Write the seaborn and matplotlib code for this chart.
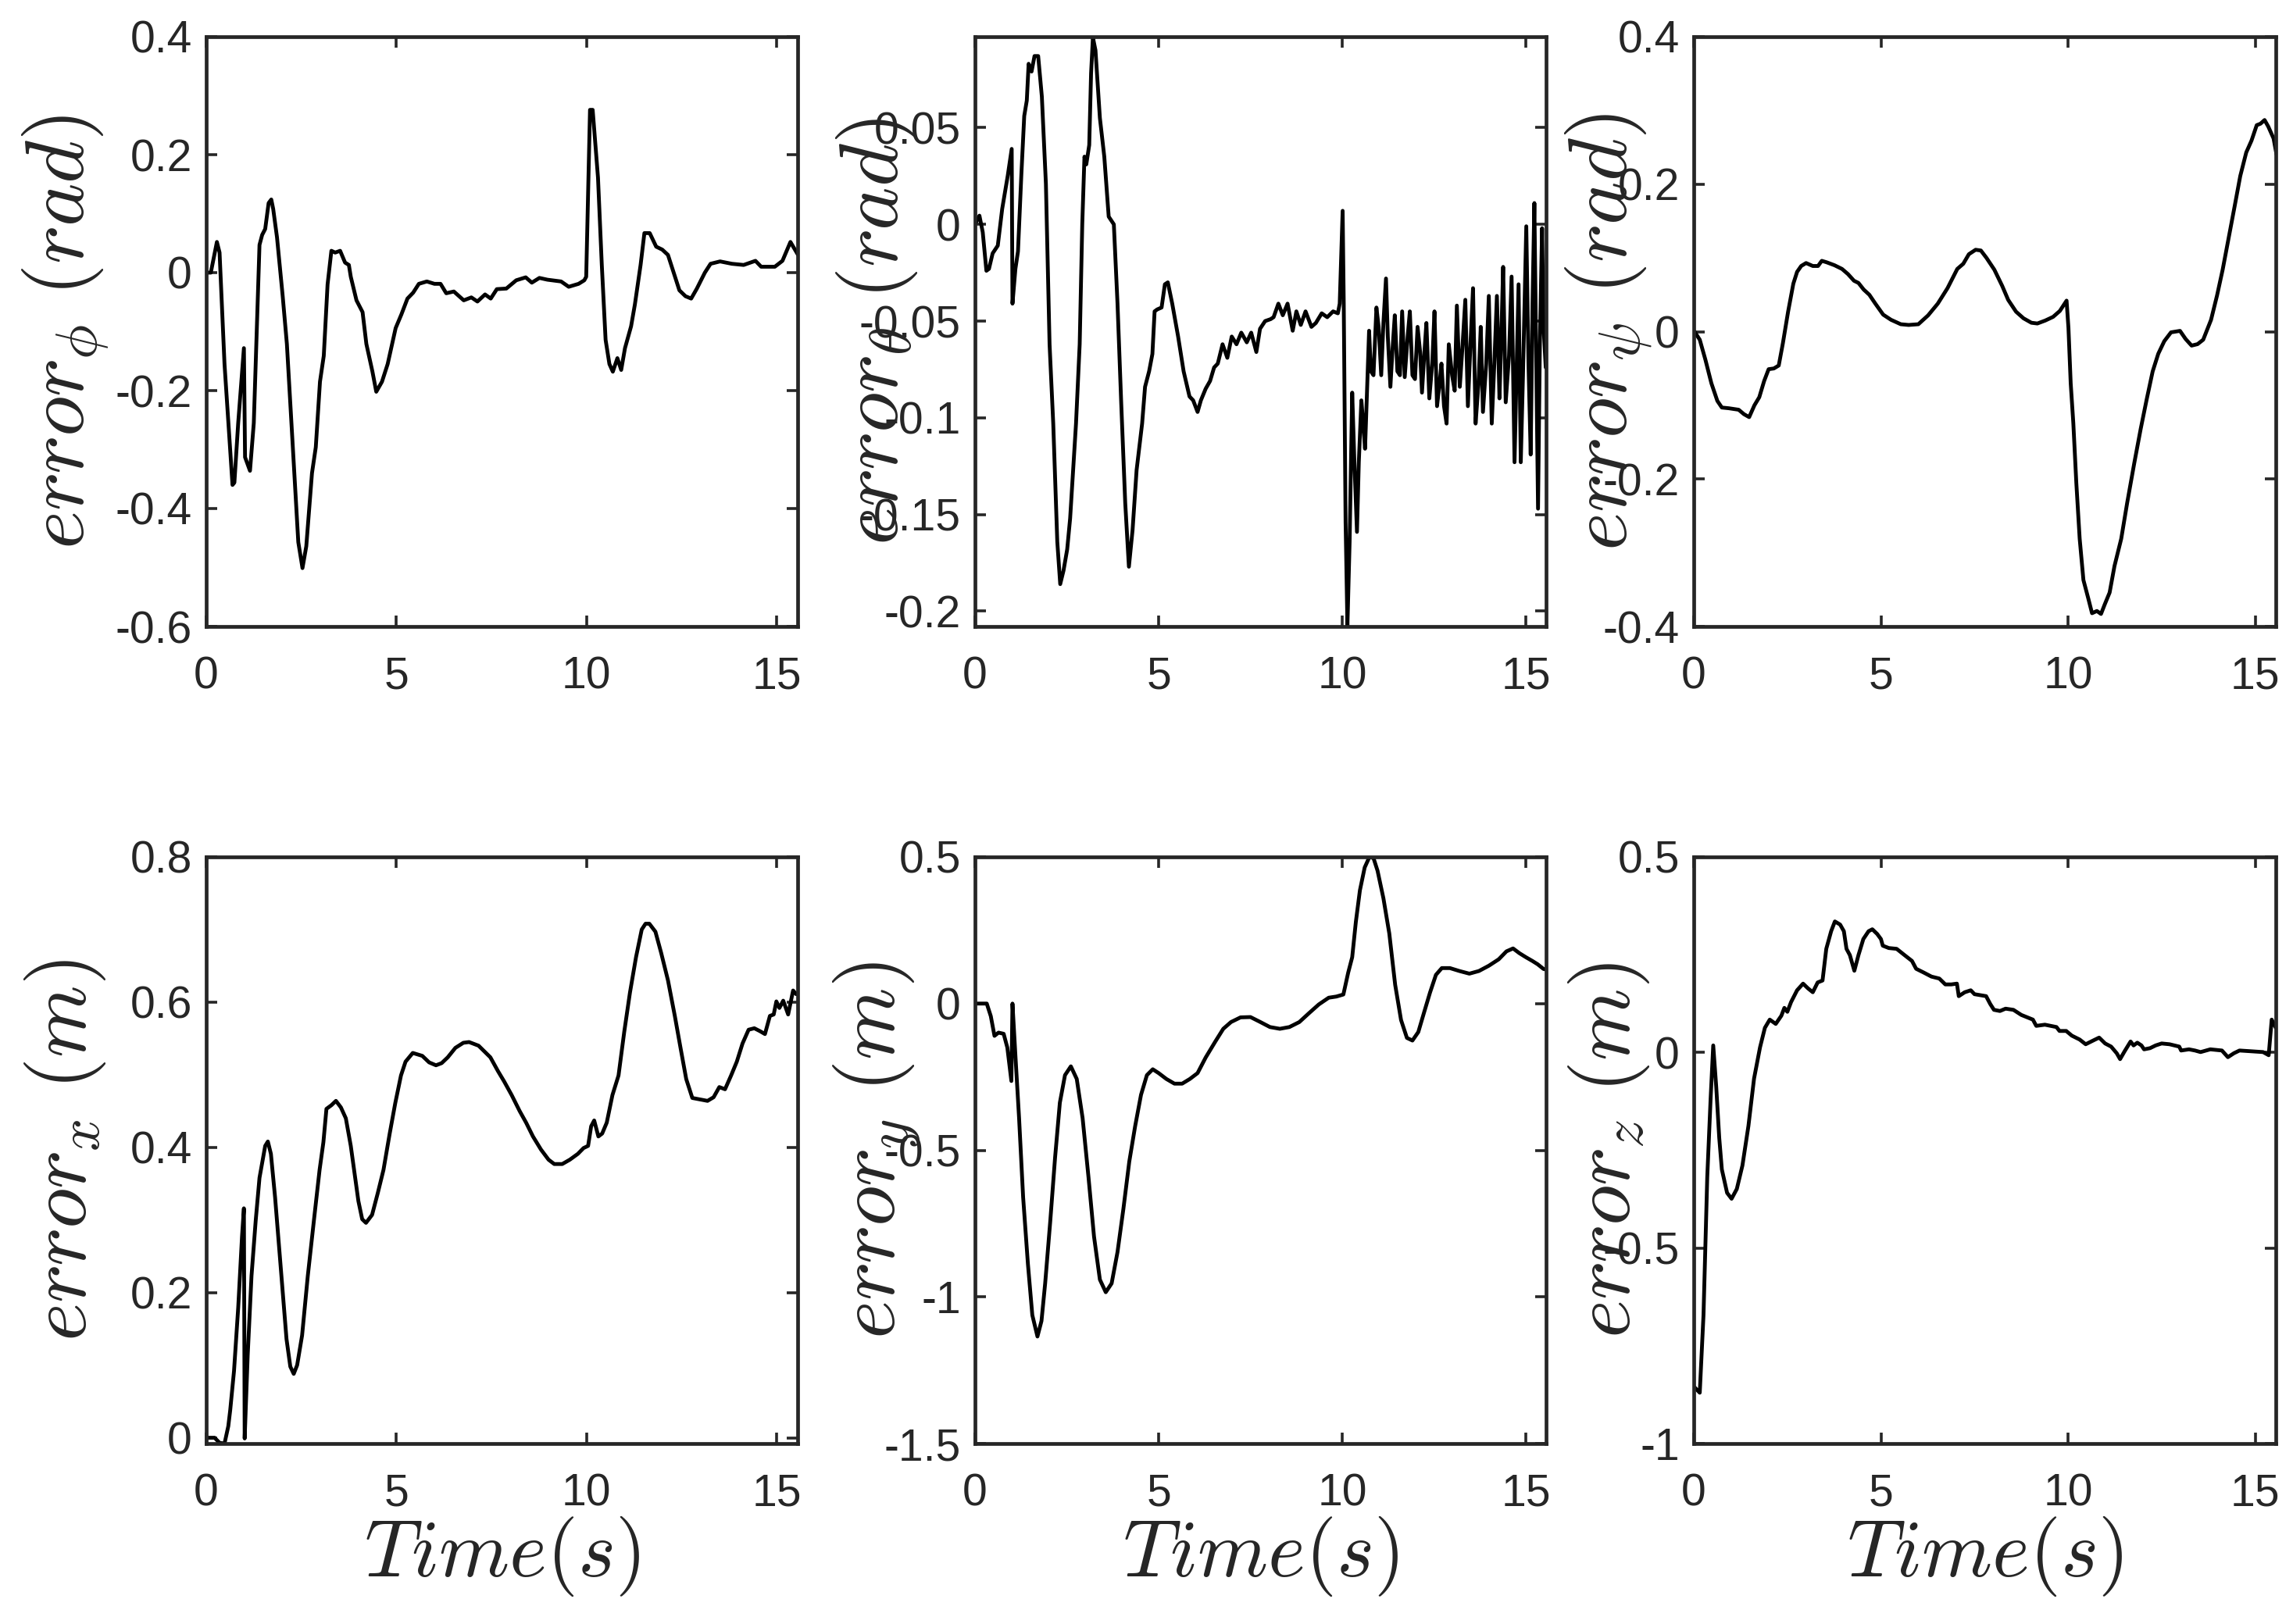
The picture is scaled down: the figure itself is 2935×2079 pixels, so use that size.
import numpy as np
import pandas as pd
import seaborn as sns
import matplotlib
matplotlib.use("Agg")
import matplotlib.pyplot as plt
from matplotlib.ticker import FuncFormatter

sns.set_style("ticks")
plt.rcParams['font.family'] = ['Liberation Sans', 'DejaVu Sans']
plt.rcParams['mathtext.fontset'] = 'cm'
plt.rcParams['axes.unicode_minus'] = False

# ---- data (time in s, error values) ----
t_phi = [0, 0.12, 0.28, 0.35, 0.48, 0.69, 0.74, 0.84, 0.99, 1.02, 1.15, 1.25, 1.40, 1.47, 1.55,
         1.64, 1.71, 1.76, 1.86, 2.01, 2.12, 2.27, 2.42, 2.53, 2.63, 2.78, 2.88, 2.99, 3.09, 3.19,
         3.29, 3.39, 3.52, 3.65, 3.75, 3.80, 3.95, 4.11, 4.21, 4.37, 4.47, 4.62, 4.77, 4.98, 5.13,
         5.29, 5.44, 5.59, 5.80, 6.00, 6.16, 6.31, 6.51, 6.77, 6.97, 7.13, 7.33, 7.48, 7.64, 7.89,
         8.15, 8.40, 8.56, 8.76, 8.97, 9.33, 9.53, 9.79, 9.94, 9.99, 10.09, 10.16, 10.30, 10.40,
         10.50, 10.60, 10.69, 10.81, 10.91, 11.01, 11.17, 11.27, 11.42, 11.52, 11.66, 11.83, 11.99,
         12.14, 12.29, 12.44, 12.60, 12.75, 12.90, 13.11, 13.26, 13.51, 13.82, 14.13, 14.44, 14.59,
         14.95, 15.15, 15.36, 15.56]
err_phi = [0, 0, 0.052, 0.034, -0.155, -0.36, -0.356, -0.255, -0.128, -0.313, -0.336, -0.255,
           0.047, 0.064, 0.074, 0.118, 0.124, 0.108, 0.06, -0.04, -0.121, -0.289, -0.457, -0.501,
           -0.464, -0.34, -0.296, -0.185, -0.141, -0.02, 0.037, 0.034, 0.037, 0.017, 0.013, -0.007,
           -0.047, -0.067, -0.121, -0.168, -0.202, -0.185, -0.155, -0.094, -0.071, -0.044, -0.034,
           -0.019, -0.015, -0.019, -0.019, -0.035, -0.032, -0.047, -0.042, -0.049, -0.037, -0.044,
           -0.028, -0.027, -0.013, -0.008, -0.017, -0.009, -0.012, -0.015, -0.024, -0.019, -0.013,
           -0.007, 0.276, 0.276, 0.161, 0.013, -0.114, -0.155, -0.168, -0.145, -0.165, -0.128,
           -0.091, -0.054, 0.013, 0.067, 0.067, 0.044, 0.039, 0.03, 0.0, -0.03, -0.04, -0.044,
           -0.027, 0.0, 0.015, 0.019, 0.015, 0.013, 0.02, 0.01, 0.01, 0.02, 0.052, 0.03]

t_theta = [0, 0.12, 0.21, 0.31, 0.38, 0.48, 0.62, 0.74, 0.89, 0.999, 1.02, 1.10, 1.17, 1.26, 1.34,
           1.41, 1.46, 1.54, 1.62, 1.72, 1.82, 1.93, 2.03, 2.13, 2.24, 2.32, 2.41, 2.51, 2.59, 2.75,
           2.85, 2.92, 2.98, 3.03, 3.11, 3.16, 3.21, 3.28, 3.40, 3.52, 3.64, 3.78, 3.88, 3.98, 4.09,
           4.19, 4.29, 4.40, 4.55, 4.63, 4.74, 4.83, 4.89, 4.96, 5.08, 5.17, 5.25, 5.37, 5.53, 5.68,
           5.84, 5.94, 6.06, 6.15, 6.28, 6.40, 6.51, 6.61, 6.74, 6.87, 6.99, 7.12, 7.25, 7.40, 7.52,
           7.66, 7.76, 7.90, 8.05, 8.13, 8.26, 8.38, 8.51, 8.65, 8.75, 8.87, 9.00, 9.16, 9.28, 9.44,
           9.59, 9.75, 9.88, 9.93, 10.01, 10.04, 10.09, 10.14, 10.20, 10.27, 10.33, 10.40, 10.45,
           10.52, 10.57, 10.62, 10.68, 10.73, 10.78, 10.85, 10.93, 10.99, 11.06, 11.12, 11.19,
           11.24, 11.31, 11.37, 11.43, 11.50, 11.57, 11.63, 11.70, 11.78, 11.84, 11.91, 11.98,
           12.05, 12.12, 12.17, 12.23, 12.29, 12.37, 12.45, 12.51, 12.58, 12.65, 12.70, 12.77,
           12.84, 12.90, 12.99, 13.06, 13.12, 13.20, 13.27, 13.35, 13.42, 13.49, 13.56, 13.63,
           13.71, 13.77, 13.83, 13.92, 13.99, 14.07, 14.14, 14.21, 14.28, 14.33, 14.38, 14.45,
           14.54, 14.61, 14.69, 14.74, 14.80, 14.86, 14.92, 15.01, 15.07, 15.13, 15.18, 15.23,
           15.29, 15.33, 15.38, 15.44, 15.48, 15.54]
err_theta = [0, 0.0045, -0.004, -0.024, -0.023, -0.015, -0.011, 0.008, 0.025, 0.039, -0.041,
             -0.023, -0.014, 0.025, 0.056, 0.064, 0.083, 0.079, 0.087, 0.087, 0.066, 0.021, -0.062,
             -0.103, -0.164, -0.186, -0.179, -0.168, -0.152, -0.103, -0.062, 0.0, 0.035, 0.031,
             0.041, 0.078, 0.0966, 0.090, 0.055, 0.035, 0.004, 0.0, -0.041, -0.092, -0.144, -0.177,
             -0.158, -0.127, -0.103, -0.084, -0.076, -0.067, -0.045, -0.044, -0.043, -0.031, -0.030,
             -0.041, -0.058, -0.076, -0.089, -0.091, -0.097, -0.091, -0.085, -0.081, -0.074, -0.072,
             -0.062, -0.069, -0.058, -0.062, -0.056, -0.061, -0.056, -0.066, -0.054, -0.050, -0.049,
             -0.048, -0.041, -0.047, -0.041, -0.055, -0.045, -0.052, -0.045, -0.053, -0.051, -0.046,
             -0.048, -0.045, -0.046, -0.041, 0.007, -0.041, -0.154, -0.2075, -0.164, -0.087, -0.123,
             -0.159, -0.123, -0.091, -0.103, -0.116, -0.082, -0.055, -0.076, -0.078, -0.043, -0.053,
             -0.078, -0.051, -0.028, -0.058, -0.084, -0.064, -0.047, -0.076, -0.078, -0.045, -0.079,
             -0.058, -0.045, -0.078, -0.080, -0.053, -0.066, -0.087, -0.068, -0.051, -0.090, -0.072,
             -0.045, -0.094, -0.082, -0.072, -0.094, -0.103, -0.062, -0.078, -0.086, -0.042, -0.084,
             -0.064, -0.039, -0.094, -0.062, -0.033, -0.103, -0.082, -0.053, -0.097, -0.072, -0.037,
             -0.103, -0.072, -0.037, -0.090, -0.058, -0.022, -0.092, -0.068, -0.027, -0.123, -0.082,
             -0.031, -0.123, -0.078, -0.001, -0.072, -0.119, -0.041, 0.011, -0.082, -0.147, -0.062,
             -0.002, -0.053, -0.074]

t_psi = [0.02, 0.16, 0.31, 0.47, 0.63, 0.75, 0.94, 1.20, 1.34, 1.48, 1.62, 1.75, 1.88, 2.00, 2.14,
         2.27, 2.38, 2.52, 2.66, 2.76, 2.87, 3.00, 3.18, 3.32, 3.42, 3.55, 3.76, 3.96, 4.12, 4.28,
         4.40, 4.54, 4.69, 4.85, 5.06, 5.27, 5.53, 5.74, 6.00, 6.26, 6.52, 6.78, 7.04, 7.20, 7.35,
         7.53, 7.67, 7.82, 8.03, 8.24, 8.40, 8.61, 8.81, 9.02, 9.18, 9.39, 9.60, 9.78, 9.96, 10.01,
         10.07, 10.14, 10.22, 10.31, 10.41, 10.54, 10.64, 10.77, 10.88, 10.98, 11.11, 11.24, 11.42,
         11.58, 11.77, 11.94, 12.10, 12.26, 12.41, 12.57, 12.75, 12.99, 13.14, 13.30, 13.46, 13.61,
         13.82, 13.98, 14.13, 14.29, 14.45, 14.60, 14.76, 14.90, 15.04, 15.14, 15.25, 15.35, 15.49,
         15.57]
err_psi = [0, -0.011, -0.038, -0.070, -0.094, -0.103, -0.104, -0.106, -0.112, -0.116, -0.100,
           -0.089, -0.067, -0.051, -0.050, -0.046, -0.016, 0.027, 0.065, 0.081, 0.089, 0.093,
           0.089, 0.089, 0.096, 0.094, 0.090, 0.085, 0.078, 0.069, 0.066, 0.057, 0.050, 0.038,
           0.023, 0.016, 0.010, 0.009, 0.010, 0.022, 0.038, 0.059, 0.085, 0.092, 0.105, 0.111,
           0.110, 0.100, 0.084, 0.062, 0.043, 0.027, 0.018, 0.012, 0.011, 0.015, 0.020, 0.028,
           0.042, 0.005, -0.070, -0.124, -0.205, -0.281, -0.337, -0.362, -0.382, -0.379, -0.383,
           -0.370, -0.354, -0.318, -0.281, -0.232, -0.178, -0.132, -0.092, -0.054, -0.030, -0.013,
           -0.001, 0.001, -0.010, -0.019, -0.017, -0.011, 0.016, 0.049, 0.084, 0.127, 0.170, 0.211,
           0.243, 0.259, 0.280, 0.282, 0.287, 0.278, 0.262, 0.240]

t_x = [0, 0.22, 0.35, 0.48, 0.58, 0.63, 0.73, 0.84, 0.94, 0.99, 1.01, 1.09, 1.19, 1.30, 1.40,
       1.55, 1.62, 1.70, 1.81, 1.91, 2.01, 2.11, 2.21, 2.30, 2.39, 2.52, 2.67, 2.83, 2.98, 3.08,
       3.16, 3.29, 3.41, 3.54, 3.67, 3.80, 3.90, 4.00, 4.10, 4.20, 4.36, 4.51, 4.66, 4.82, 4.97,
       5.12, 5.24, 5.43, 5.68, 5.86, 6.04, 6.19, 6.35, 6.55, 6.76, 6.91, 7.16, 7.47, 7.67, 7.83,
       8.03, 8.24, 8.41, 8.59, 8.80, 9.00, 9.15, 9.36, 9.56, 9.77, 9.92, 10.04, 10.12, 10.20, 10.31,
       10.41, 10.53, 10.68, 10.84, 10.99, 11.14, 11.30, 11.45, 11.55, 11.65, 11.81, 11.96, 12.14,
       12.32, 12.47, 12.62, 12.78, 12.98, 13.18, 13.34, 13.49, 13.64, 13.80, 13.95, 14.10, 14.26,
       14.41, 14.56, 14.69, 14.82, 14.92, 14.99, 15.07, 15.17, 15.30, 15.43, 15.51]
err_x = [0, 0, -0.007, -0.008, 0.016, 0.038, 0.092, 0.179, 0.277, 0.316, -0.001, 0.114, 0.223,
         0.299, 0.358, 0.402, 0.408, 0.391, 0.331, 0.266, 0.201, 0.136, 0.098, 0.088, 0.100,
         0.141, 0.223, 0.299, 0.369, 0.407, 0.453, 0.458, 0.464, 0.455, 0.440, 0.402, 0.364,
         0.326, 0.301, 0.296, 0.307, 0.337, 0.369, 0.418, 0.461, 0.499, 0.518, 0.530, 0.526,
         0.517, 0.513, 0.516, 0.524, 0.537, 0.544, 0.545, 0.540, 0.524, 0.505, 0.491, 0.472,
         0.450, 0.434, 0.415, 0.397, 0.383, 0.377, 0.377, 0.383, 0.391, 0.399, 0.402, 0.429,
         0.437, 0.415, 0.419, 0.434, 0.472, 0.499, 0.559, 0.613, 0.662, 0.700, 0.708, 0.708,
         0.697, 0.668, 0.630, 0.581, 0.537, 0.494, 0.468, 0.466, 0.464, 0.469, 0.483, 0.480,
         0.499, 0.518, 0.543, 0.562, 0.564, 0.560, 0.556, 0.581, 0.583, 0.601, 0.592, 0.602,
         0.583, 0.616, 0.611]

t_y = [0, 0.32, 0.43, 0.53, 0.64, 0.78, 0.88, 0.99, 1.02, 1.10, 1.20, 1.31, 1.44, 1.56, 1.70,
       1.81, 1.91, 2.05, 2.18, 2.31, 2.45, 2.61, 2.77, 2.93, 3.09, 3.24, 3.40, 3.56, 3.72, 3.88,
       4.04, 4.20, 4.36, 4.52, 4.68, 4.84, 5.00, 5.21, 5.43, 5.64, 5.85, 6.06, 6.28, 6.54, 6.76,
       6.97, 7.23, 7.50, 7.77, 8.03, 8.30, 8.56, 8.83, 9.10, 9.36, 9.63, 9.84, 10.03, 10.16, 10.27,
       10.37, 10.48, 10.61, 10.74, 10.85, 10.96, 11.12, 11.28, 11.44, 11.60, 11.76, 11.91, 12.07,
       12.23, 12.39, 12.55, 12.71, 12.93, 13.19, 13.46, 13.72, 13.99, 14.26, 14.47, 14.65, 14.82,
       15.00, 15.18, 15.32, 15.48, 15.59]
err_y = [0, 0, -0.043, -0.110, -0.099, -0.103, -0.150, -0.264, 0.0, -0.177, -0.391, -0.660,
         -0.887, -1.062, -1.135, -1.082, -0.954, -0.740, -0.525, -0.338, -0.244, -0.214, -0.257,
         -0.391, -0.592, -0.794, -0.941, -0.984, -0.954, -0.847, -0.700, -0.539, -0.418, -0.311,
         -0.244, -0.224, -0.237, -0.257, -0.273, -0.273, -0.257, -0.237, -0.184, -0.130, -0.086,
         -0.063, -0.047, -0.046, -0.063, -0.080, -0.086, -0.080, -0.063, -0.032, -0.003, 0.020,
         0.024, 0.031, 0.105, 0.158, 0.279, 0.386, 0.464, 0.500, 0.496, 0.453, 0.359, 0.239,
         0.064, -0.056, -0.117, -0.126, -0.097, -0.029, 0.038, 0.098, 0.121, 0.121, 0.111, 0.102,
         0.111, 0.129, 0.151, 0.178, 0.188, 0.172, 0.158, 0.145, 0.134, 0.118, 0.115]

t_z = [0, 0.16, 0.26, 0.36, 0.45, 0.52, 0.60, 0.68, 0.75, 0.89, 1.01, 1.15, 1.30, 1.46, 1.61,
       1.77, 1.90, 2.03, 2.19, 2.34, 2.42, 2.50, 2.60, 2.76, 2.92, 3.05, 3.18, 3.31, 3.44, 3.54,
       3.67, 3.77, 3.91, 4.01, 4.08, 4.17, 4.29, 4.40, 4.53, 4.67, 4.77, 4.90, 5.00, 5.05, 5.21,
       5.42, 5.63, 5.83, 5.94, 6.15, 6.35, 6.56, 6.72, 6.88, 7.03, 7.08, 7.24, 7.40, 7.50, 7.81,
       7.92, 8.02, 8.18, 8.33, 8.54, 8.75, 9.06, 9.15, 9.38, 9.69, 9.77, 9.95, 10.10, 10.31, 10.47,
       10.68, 10.83, 10.99, 11.15, 11.30, 11.39, 11.51, 11.67, 11.75, 11.85, 11.96, 12.03, 12.19,
       12.34, 12.50, 12.71, 12.97, 13.02, 13.23, 13.39, 13.54, 13.80, 14.11, 14.27, 14.43, 14.58,
       14.90, 15.21, 15.36, 15.44, 15.55]
err_z = [-0.854, -0.870, -0.671, -0.319, -0.118, 0.018, -0.088, -0.218, -0.299, -0.359, -0.374,
         -0.349, -0.289, -0.188, -0.067, 0.013, 0.063, 0.084, 0.073, 0.094, 0.114, 0.104, 0.129,
         0.159, 0.176, 0.164, 0.154, 0.179, 0.184, 0.265, 0.310, 0.335, 0.327, 0.310, 0.265,
         0.249, 0.209, 0.249, 0.290, 0.310, 0.315, 0.303, 0.290, 0.273, 0.267, 0.265, 0.249,
         0.234, 0.214, 0.204, 0.194, 0.189, 0.174, 0.174, 0.176, 0.144, 0.154, 0.159, 0.149,
         0.144, 0.124, 0.109, 0.106, 0.112, 0.109, 0.096, 0.084, 0.068, 0.071, 0.065, 0.055,
         0.055, 0.043, 0.033, 0.021, 0.031, 0.038, 0.023, 0.015, -0.002, -0.017, 0.003, 0.028,
         0.018, 0.025, 0.018, 0.008, 0.011, 0.018, 0.023, 0.021, 0.015, 0.005, 0.008, 0.005,
         0.001, 0.008, 0.005, -0.012, -0.002, 0.005, 0.003, 0.001, -0.007, 0.084, 0.063]

panels = [
    (t_phi, err_phi, r'$error_{\phi}\ (rad)$', (-0.6, 0.4), [-0.6, -0.4, -0.2, 0, 0.2, 0.4]),
    (t_theta, err_theta, r'$error_{\theta}\ (rad)$', (-0.2079, 0.097), [-0.2, -0.15, -0.1, -0.05, 0, 0.05]),
    (t_psi, err_psi, r'$error_{\psi}\ (rad)$', (-0.4, 0.4), [-0.4, -0.2, 0, 0.2, 0.4]),
    (t_x, err_x, r'$error_{x}\ (m)$', (-0.008, 0.8), [0, 0.2, 0.4, 0.6, 0.8]),
    (t_y, err_y, r'$error_{y}\ (m)$', (-1.5, 0.5), [-1.5, -1, -0.5, 0, 0.5]),
    (t_z, err_z, r'$error_{z}\ (m)$', (-1, 0.5), [-1, -0.5, 0, 0.5]),
]

W, H = 2935, 2079
fig = plt.figure(figsize=(W / 100, H / 100), dpi=100)

# axes boxes in pixels: (left, right), (top, bottom)
cols = [(264, 1021), (1248, 1979), (2168, 2913)]
rows = [(47, 802), (1097, 1848)]
label_x = [-0.238, -0.171, -0.146]

ink = '#262626'
fmt = FuncFormatter(lambda v, p: f'{round(v, 4):g}')

for i, (t, e, ylab, ylim, yt) in enumerate(panels):
    r, c = divmod(i, 3)
    l, rr = cols[c]
    tp, bt = rows[r]
    ax = fig.add_axes([l / W, 1 - bt / H, (rr - l) / W, (bt - tp) / H])
    df = pd.DataFrame({'t': t, 'e': e})
    sns.lineplot(data=df, x='t', y='e', ax=ax, color='black', linewidth=3.5,
                 estimator=None, sort=False)
    ax.set_xlim(0, 15.55)
    ax.set_ylim(*ylim)
    ax.set_xticks([0, 5, 10, 15])
    ax.set_yticks(yt)
    ax.yaxis.set_major_formatter(fmt)
    ax.xaxis.set_major_formatter(fmt)
    ax.tick_params(axis='both', direction='in', top=True, right=True, length=10, width=2.6,
                   labelsize=41, colors=ink, labelcolor=ink)
    ax.tick_params(axis='x', pad=27)
    ax.tick_params(axis='y', pad=13)
    for s in ax.spines.values():
        s.set_linewidth(3.4)
        s.set_color(ink)
    ax.set_ylabel(ylab, fontsize=76, color=ink, va='center')
    ax.yaxis.set_label_coords(label_x[c], 0.5)
    if r == 1:
        ax.set_xlabel(r'$Time(s)$', fontsize=74, color=ink, va='center')
        ax.xaxis.set_label_coords(0.5, -0.192)
    else:
        ax.set_xlabel('')

fig.savefig('out.png', dpi=100, facecolor='white')
